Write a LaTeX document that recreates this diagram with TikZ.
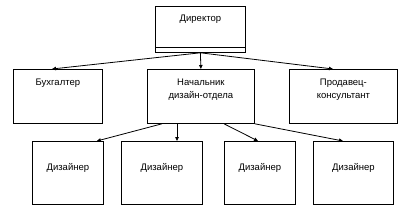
\documentclass[tikz,border=0pt]{standalone}
\usepackage{fontspec}
\setmainfont{Liberation Sans}
\usetikzlibrary{arrows.meta, calc}

\begin{document}
\begin{tikzpicture}[x=1pt, y=-1pt,
    box/.style={draw, rectangle, line width=0.8pt, inner sep=0pt, anchor=north west, align=center, font=\fontsize{9.5}{13}\selectfont},
    link/.style={-{Triangle[length=4pt, width=3.5pt]}, line width=0.8pt}
]
\useasboundingbox (0,0) rectangle (411,224);

% Nodes
\node[box, minimum width=90pt, text height=15pt, text depth=31pt] (dir) at (155,6) {Директор};

\node[box, minimum width=89pt, text height=16pt, text depth=38pt] (buh) at (13,69) {Бухгалтер};
\node[box, minimum width=107pt, text height=29pt, text depth=25pt] (nach) at (147,69) {Начальник\\дизайн-отдела};
\node[box, minimum width=108pt, text height=29pt, text depth=25pt] (prod) at (289,69) {Продавец-\\консультант};

\node[box, minimum width=71pt, text height=29pt, text depth=34pt] (des1) at (32,141) {Дизайнер};
\node[box, minimum width=81pt, text height=29pt, text depth=34pt] (des2) at (121,141) {Дизайнер};
\node[box, minimum width=71pt, text height=29pt, text depth=34pt] (des3) at (224,141) {Дизайнер};
\node[box, minimum width=80pt, text height=29pt, text depth=34pt] (des4) at (313,141) {Дизайнер};

% shadow line of the top box
\draw[line width=0.6pt] ($(dir.south west)+(0,-5)$) -- ($(dir.south east)+(0,-5)$);

% Edges
\draw[link] (dir.south) -- ($(buh.north west)+(39,0)$);
\draw[link] (dir.south) -- (nach.north);
\draw[link] (dir.south) -- ($(prod.north west)+(44,0)$);

\draw[link] ($(nach.south west)+(15,0)$) -- ($(des1.north east)+(-7,0)$);
\draw[link] ($(nach.south west)+(30,0)$) -- ($(des2.north west)+(56,0)$);
\draw[link] ($(nach.south west)+(77,0)$) -- ($(des3.north west)+(34,0)$);
\draw[link] (nach.south east) -- ($(des4.north west)+(30,0)$);

\end{tikzpicture}
\end{document}
